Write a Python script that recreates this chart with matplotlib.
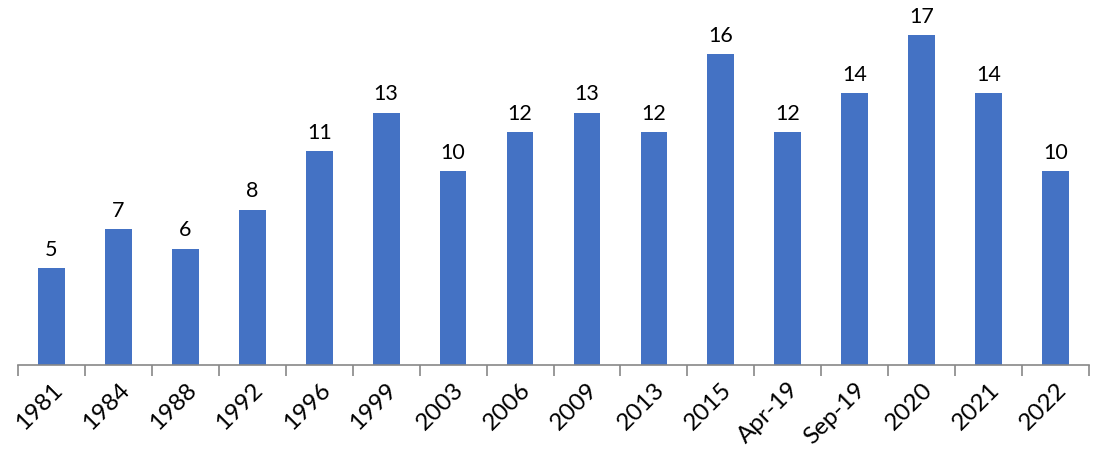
import matplotlib.pyplot as plt
import numpy as np

years = ["1981", "1984", "1988", "1992", "1996", "1999", "2003", "2006",
         "2009", "2013", "2015", "Apr-19", "Sep-19", "2020", "2021", "2022"]
values = [5, 7, 6, 8, 11, 13, 10, 12, 13, 12, 16, 12, 14, 17, 14, 10]

plt.rcParams['font.family'] = ['Lato', 'DejaVu Sans']

fig = plt.figure(figsize=(11.04, 4.57), dpi=100)
ax = fig.add_axes([18 / 1104, 92 / 457, 1071 / 1104, 330 / 457])

x = np.arange(len(years))
bars = ax.bar(x, values, width=0.4, color='#4472C4')

for xi, v in zip(x, values):
    ax.annotate(str(v), (xi, v), xytext=(0, 6), textcoords='offset points',
                ha='center', va='bottom', fontsize=15.5, annotation_clip=False)

ax.set_xlim(-0.5, len(years) - 0.5)
ax.set_ylim(0, 17)

ax.set_xticks(x)
ax.set_xticklabels(years, rotation=45, ha='right', rotation_mode='anchor', fontsize=17.5)
ax.tick_params(axis='x', length=0, pad=10)
ax.set_xticks(np.arange(-0.5, len(years)), minor=True)
ax.tick_params(axis='x', which='minor', length=8, width=1.2, color='#888888')

ax.set_yticks([])
for s in ['top', 'right', 'left']:
    ax.spines[s].set_visible(False)
ax.spines['bottom'].set_color('#888888')
ax.spines['bottom'].set_linewidth(1.2)

fig.savefig('out.png', dpi=100)
